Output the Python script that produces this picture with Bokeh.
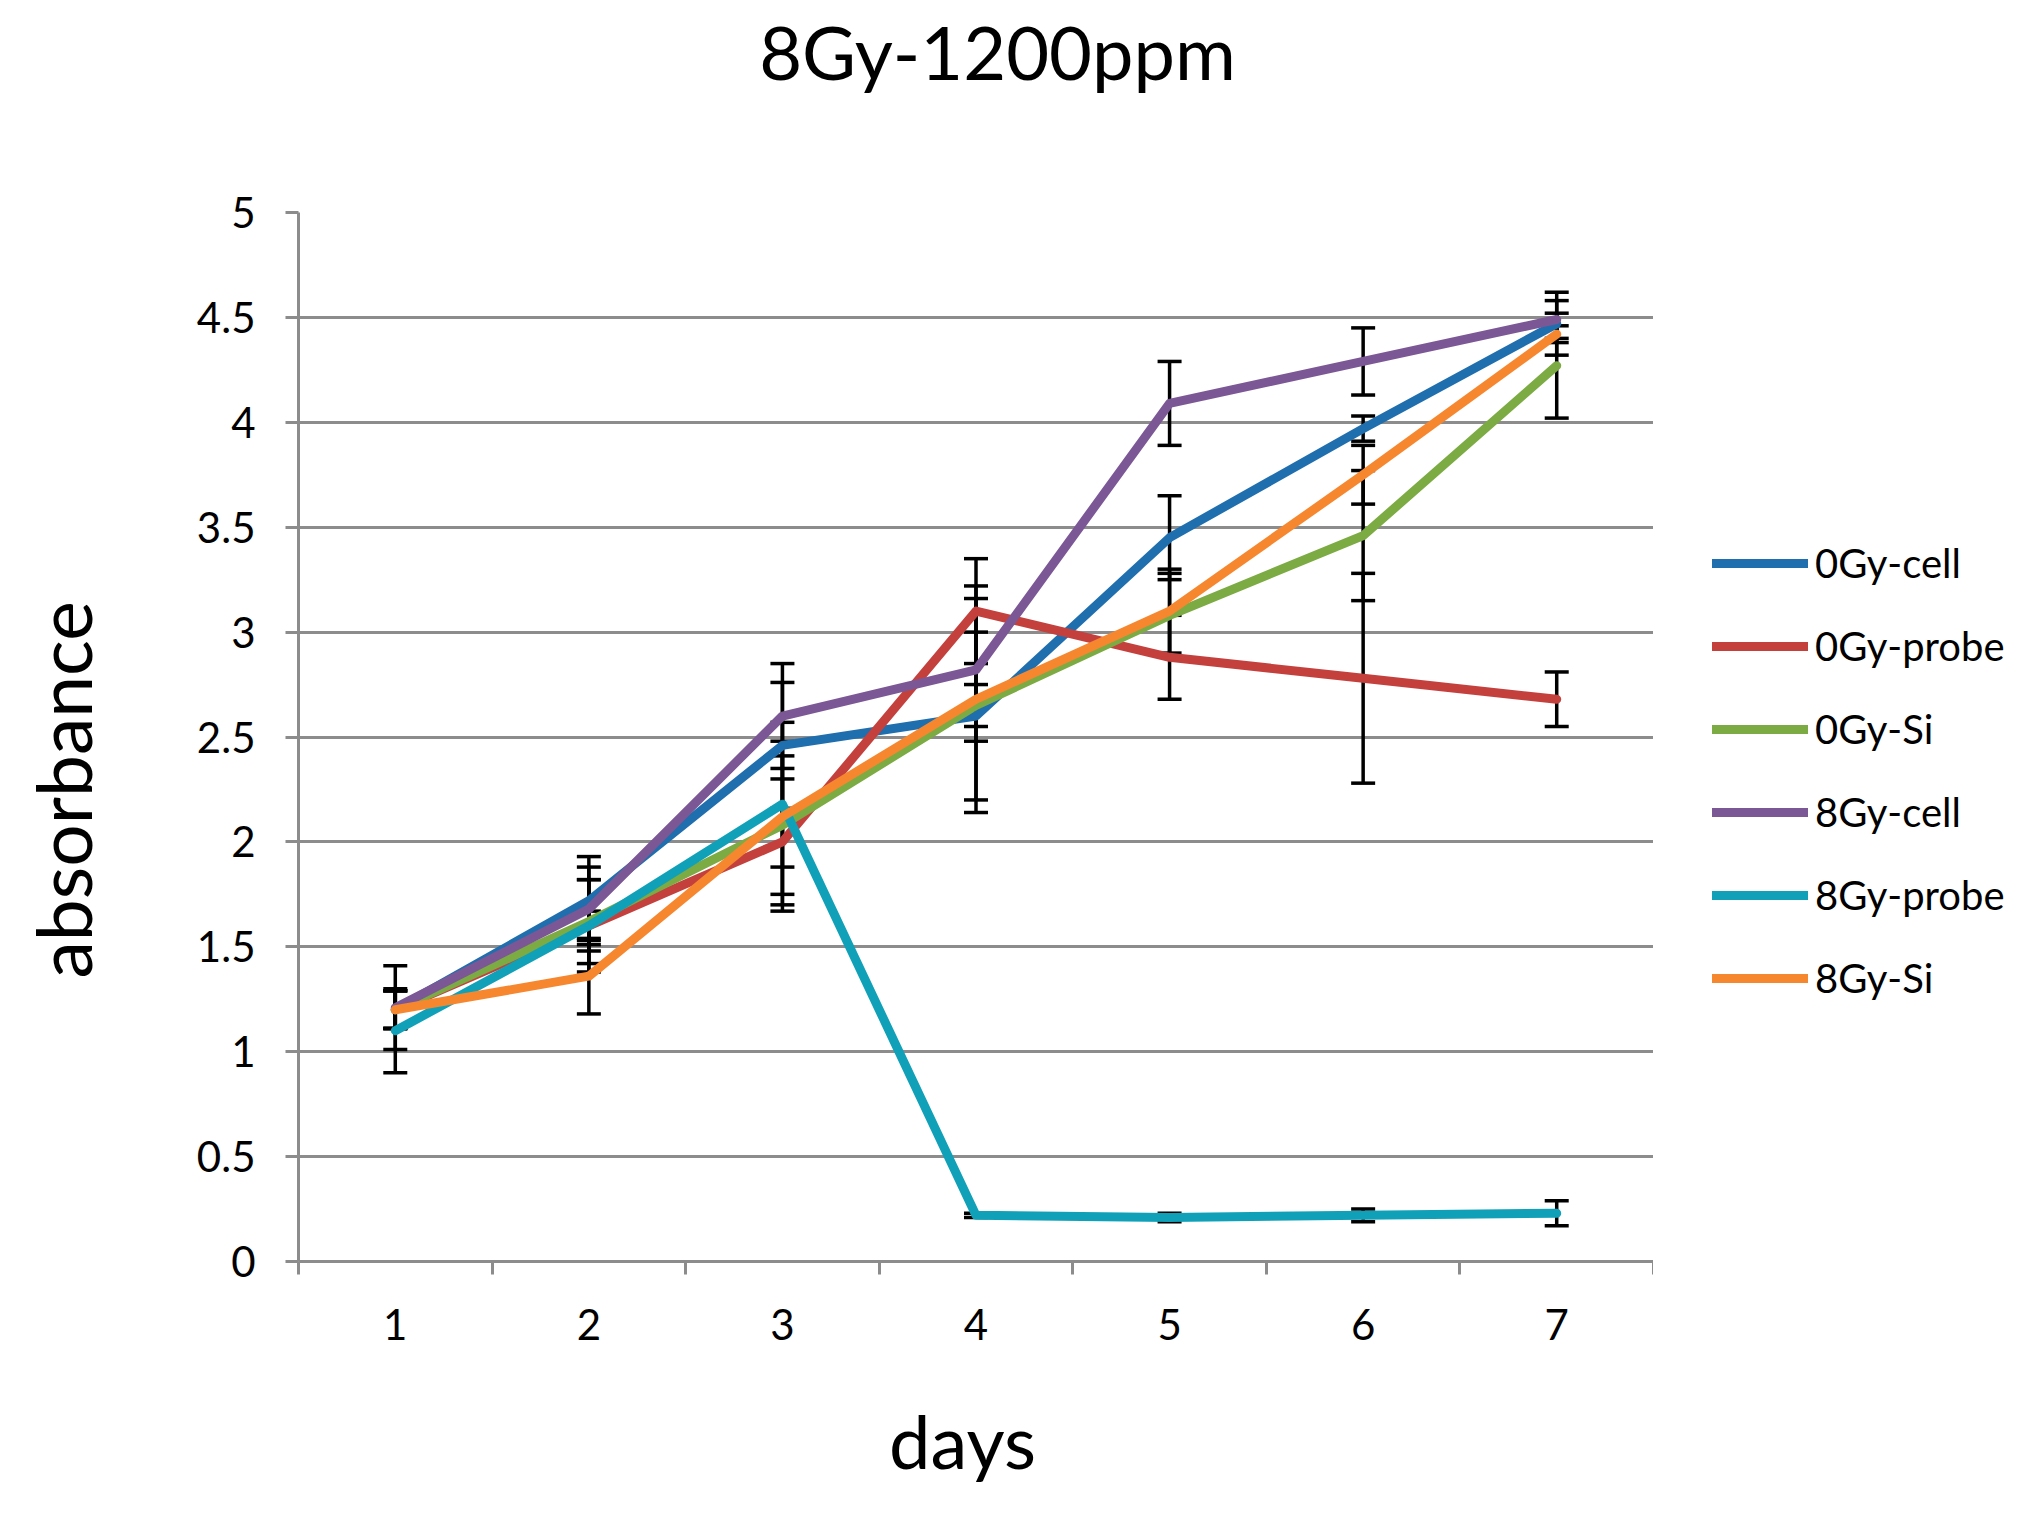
import math
from bokeh.plotting import figure
from bokeh.layouts import column, row
from bokeh.models import (ColumnDataSource, Range1d, FixedTicker, Whisker, TeeHead,
                          Legend, LegendItem, NumeralTickFormatter, Label)
from bokeh.embed import file_html
from bokeh.resources import INLINE

# ---------------- data ----------------
days = [1, 2, 3, 4, 5, 6, 7]
series_names = ["0Gy-cell", "0Gy-probe", "0Gy-Si", "8Gy-cell", "8Gy-probe", "8Gy-Si"]

gy0_cell = [1.20, 1.72, 2.46, 2.60, 3.45, 3.97, 4.47]
gy0_probe = [1.20, 1.60, 2.00, 3.10, 2.88, 2.78, 2.68]
gy0_si = [1.20, 1.62, 2.08, 2.65, 3.08, 3.46, 4.27]
gy8_cell = [1.21, 1.68, 2.60, 2.82, 4.09, 4.29, 4.49]
gy8_probe = [1.10, 1.60, 2.18, 0.22, 0.21, 0.22, 0.23]
gy8_si = [1.20, 1.36, 2.12, 2.68, 3.10, 3.75, 4.42]

err0_cell = [0.09, 0.21, 0.30, 0.40, 0.20, 0.06, 0.15]
err0_probe = [0.09, 0.22, 0.30, 0.25, 0.20, 0.50, 0.13]
err0_si = [0.09, 0.20, 0.33, 0.10, 0.20, 0.31, 0.25]
err8_cell = [0.20, 0.20, 0.25, 0.34, 0.20, 0.16, 0.09]
err8_probe = [0.20, 0.07, 0.30, 0.01, 0.02, 0.03, 0.06]
err8_si = [0.09, 0.18, 0.45, 0.54, 0.20, 0.14, 0.04]

y_ticks = [0, 0.5, 1, 1.5, 2, 2.5, 3, 3.5, 4, 4.5, 5]

title_text = "8Gy-1200ppm"
x_title = "days"
y_title = "absorbance"

values = [gy0_cell, gy0_probe, gy0_si, gy8_cell, gy8_probe, gy8_si]
errors = [err0_cell, err0_probe, err0_si, err8_cell, err8_probe, err8_si]
colors = ["#1f6eae", "#c4403d", "#7bab42", "#7b5795", "#10a1b9", "#f6872f"]

FONT = "Lato"
GRAY = "#8c8c8c"

# ---------------- layout sizes (pixels) ----------------
W, H = 2027, 1497
TOP_H = 130          # strip holding the main title
BOT_H = 117          # strip holding the x-axis title
MID_H = H - TOP_H - BOT_H
LEFT_W = 120         # strip holding the y-axis title
RIGHT_W = 374        # strip holding the legend
MAIN_W = W - LEFT_W - RIGHT_W


def text_strip(w, h):
    f = figure(width=w, height=h, output_backend="svg", toolbar_location=None,
               x_range=Range1d(0, w), y_range=Range1d(0, h),
               x_axis_location=None, y_axis_location=None, min_border=0)
    f.grid.visible = False
    f.outline_line_color = None
    return f


# ---------------- main plot ----------------
p = figure(width=MAIN_W, height=MID_H, output_backend="svg", toolbar_location=None, title=None,
           x_range=Range1d(days[0] - 0.5, days[-1] + 0.5), y_range=Range1d(y_ticks[0], y_ticks[-1]),
           min_border_left=298 - LEFT_W, min_border_right=0, min_border_top=212 - TOP_H,
           min_border_bottom=MID_H + TOP_H - 1261)
p.outline_line_color = None

xa = p.xaxis[0]
xa.ticker = FixedTicker(ticks=days, minor_ticks=[d - 0.5 for d in days] + [days[-1] + 0.5])
xa.major_tick_out = 0
xa.major_tick_in = 0
xa.minor_tick_out = 13
xa.minor_tick_in = 0
xa.minor_tick_line_color = GRAY
xa.minor_tick_line_width = 3
xa.axis_line_color = GRAY
xa.axis_line_width = 3
xa.major_label_text_font = FONT
xa.major_label_text_font_size = "42px"
xa.major_label_text_color = "black"
xa.major_label_standoff = 34

ya = p.yaxis[0]
ya.ticker = FixedTicker(ticks=y_ticks)
ya.formatter = NumeralTickFormatter(format="0.[0]")
ya.major_tick_out = 13
ya.major_tick_in = 0
ya.minor_tick_out = 0
ya.minor_tick_in = 0
ya.major_tick_line_color = GRAY
ya.major_tick_line_width = 3
ya.axis_line_color = GRAY
ya.axis_line_width = 3
ya.major_label_text_font = FONT
ya.major_label_text_font_size = "42px"
ya.major_label_text_color = "black"
ya.major_label_standoff = 30

p.xgrid.visible = False
p.ygrid.ticker = FixedTicker(ticks=y_ticks)
p.ygrid.grid_line_color = GRAY
p.ygrid.grid_line_width = 3

for vals, errs, col in zip(values, errors, colors):
    src = ColumnDataSource(dict(
        x=days, y=vals,
        upper=[v + e for v, e in zip(vals, errs)],
        lower=[v - e for v, e in zip(vals, errs)],
    ))
    p.add_layout(Whisker(base="x", upper="upper", lower="lower", source=src,
                         line_color="black", line_width=3.5,
                         upper_head=TeeHead(size=24, line_color="black", line_width=3.5),
                         lower_head=TeeHead(size=24, line_color="black", line_width=3.5)))
    p.line("x", "y", source=src, line_color=col, line_width=9,
           line_join="round", line_cap="round")

# ---------------- title strip ----------------
top = text_strip(W, TOP_H)
top.add_layout(Label(x=997, y=79, text=title_text, text_align="center",
                     text_baseline="alphabetic", text_font=FONT, text_font_size="74px",
                     text_color="black"))

# ---------------- y title strip ----------------
left = text_strip(LEFT_W, MID_H)
left.add_layout(Label(x=62, y=562, text=y_title, angle=math.pi / 2,
                      text_align="center", text_baseline="alphabetic", text_font=FONT,
                      text_font_size="75px", text_color="black"))

# ---------------- legend strip ----------------
right = text_strip(RIGHT_W, MID_H)
items = []
for name, col in zip(series_names, colors):
    # legend-only renderer: a single missing point, so nothing is drawn in the strip
    r = right.line(x=[float("nan")], y=[float("nan")], line_color=col, line_width=9,
                   line_cap="round")
    items.append(LegendItem(label=name, renderers=[r]))
legend = Legend(items=items, location=(59, 259), orientation="vertical",
                glyph_width=96, glyph_height=40, label_height=40, spacing=35,
                padding=0, margin=0, border_line_color=None, background_fill_alpha=0,
                label_text_font=FONT, label_text_font_size="40px",
                label_text_color="black", label_standoff=7)
right.add_layout(legend)

# ---------------- x title strip ----------------
bottom = text_strip(W, BOT_H)
bottom.add_layout(Label(x=962, y=57, text=x_title, text_align="center",
                        text_baseline="alphabetic", text_font=FONT, text_font_size="74px",
                        text_color="black"))

layout = column(top, row(left, p, right), bottom)
open("out.html", "w").write(file_html(layout, INLINE))
